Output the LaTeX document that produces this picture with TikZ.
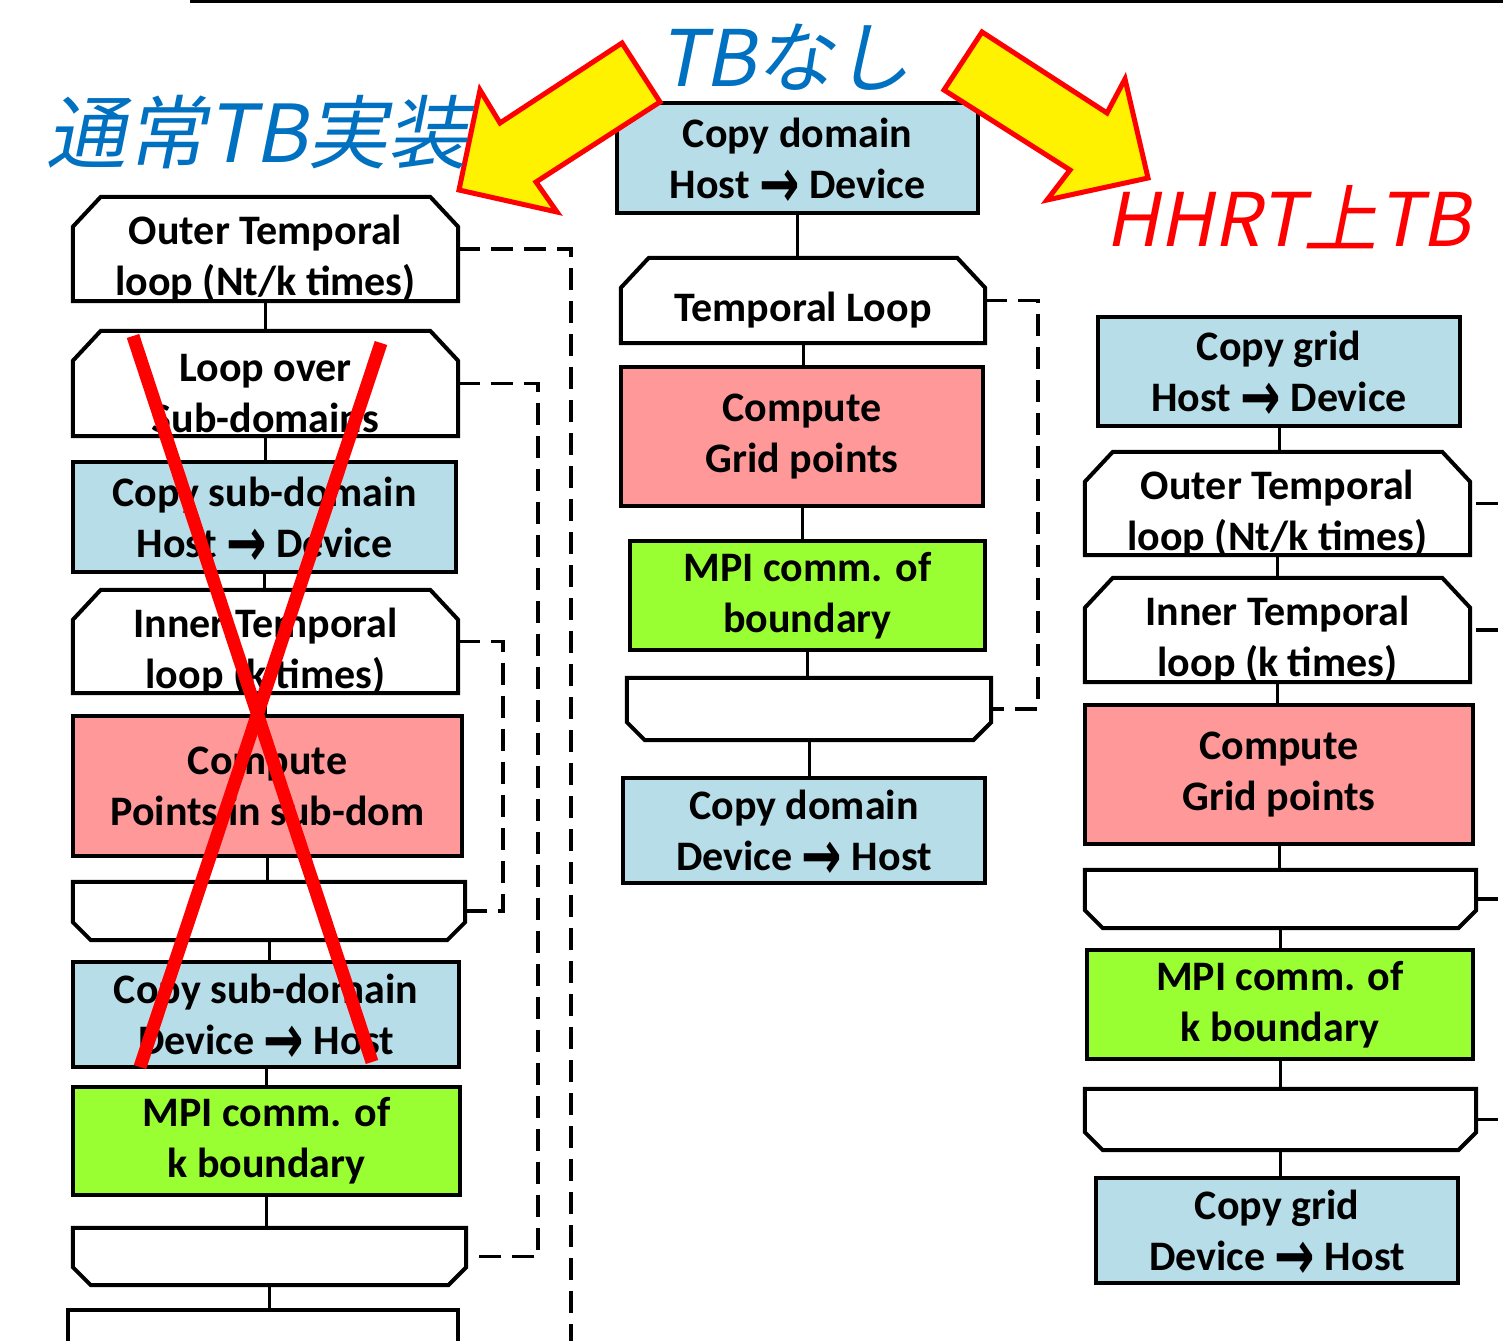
\documentclass[tikz,border=0pt]{standalone}
\usepackage{fontspec}
\usepackage{graphicx}
\setmainfont{Carlito}
\newfontfamily\jpfont[FakeSlant=0.2]{Noto Sans CJK JP}
\newfontfamily\arrfont{DejaVu Sans}
\usetikzlibrary{calc}
\definecolor{blu}{HTML}{B7DEE8}
\definecolor{pnk}{HTML}{FF9999}
\definecolor{grn}{HTML}{99FF33}
\definecolor{jblue}{HTML}{0070C0}
\newcommand{\harr}{\raisebox{-9pt}[20pt][0pt]{\scalebox{1.15}[1.65]{\arrfont\bfseries →}}}
\newcommand{\loopstart}[1]{\draw[outl] (#1.south west) -- ([yshift=-30pt]#1.north west) -- ([xshift=28pt]#1.north west) -- ([xshift=-28pt]#1.north east) -- ([yshift=-30pt]#1.north east) -- (#1.south east) -- cycle;}
\newcommand{\loopend}[1]{\draw[outl] (#1.north west) -- ([yshift=18pt]#1.south west) -- ([xshift=18pt]#1.south west) -- ([xshift=-18pt]#1.south east) -- ([yshift=18pt]#1.south east) -- (#1.north east) -- cycle;}
\tikzset{
  outl/.style={line width=4pt, line join=miter},
  rbox/.style={draw, line width=4pt, fill=#1, inner sep=0pt, align=center,
    font=\fontsize{42}{51}\selectfont\bfseries},
  lbox/.style={inner sep=0pt},
  txt/.style={align=center, inner sep=0pt, font=\fontsize{42}{51}\selectfont\bfseries},
  conn/.style={line width=3pt},
  dsh/.style={line width=3.5pt, dash pattern=on 22pt off 11pt},
  xline/.style={line width=13pt, red},
  bigarrow/.style={fill=yellow, draw=red, line width=5pt, line join=miter},
}
\begin{document}
\begin{tikzpicture}[x=1pt, y=-1pt]
\useasboundingbox (0,0) rectangle (1503,1340);
\clip (0,0) rectangle (1503,1340);
\fill[white] (0,0) rectangle (1503,1340);
% top rule
\draw[line width=3pt] (190,2) -- (1503,2);

% ---------- left column ----------
\node[lbox, minimum width=385pt, minimum height=104pt, label={[txt, yshift=-10pt]center:{Outer Temporal\\loop (Nt/k times)}}] (L1) at (265.5,249) {};
\node[lbox, minimum width=385pt, minimum height=105pt, label={[txt, yshift=-10pt]center:{Loop over\\Sub-domains}}] (L2) at (265.5,383.5) {};
\node[rbox=blu, minimum width=383pt, minimum height=110pt] (L3) at (264.5,517) {Copy sub-domain\\Host \harr{} Device};
\node[lbox, minimum width=385pt, minimum height=103pt, label={[txt, yshift=-10pt]center:{Inner Temporal\\loop (k times)}}] (L4) at (265.5,641.5) {};
\node[rbox=pnk, minimum width=389pt, minimum height=140pt] (L5) at (267.5,786) {Compute\\Points in sub-dom};
\node[lbox, minimum width=392pt, minimum height=58pt] (L6) at (269,911) {};
\node[rbox=blu, minimum width=386pt, minimum height=105pt] (L7) at (266,1014.5) {Copy sub-domain\\Device \harr{} Host};
\node[rbox=grn, minimum width=387pt, minimum height=108pt] (L8) at (266.5,1141) {MPI comm. of\\k boundary};
\node[lbox, minimum width=393pt, minimum height=57pt] (L9) at (269.5,1256.5) {};
\node[rbox=white, minimum width=390pt, minimum height=90pt] (L10) at (263,1355) {};
\loopstart{L1}\loopstart{L2}\loopstart{L4}
\loopend{L6}\loopend{L9}
\draw[conn] (L1.south) -- (L1.south |- L2.north);
\draw[conn] (L2.south) -- (L2.south |- L3.north);
\draw[conn] (L3.south) -- (L3.south |- L4.north);
\draw[conn] (L4.south) -- (L4.south |- L5.north);
\draw[conn] (L5.south) -- (L5.south |- L6.north);
\draw[conn] (L6.south) -- (L6.south |- L7.north);
\draw[conn] (L7.south) -- (L7.south |- L8.north);
\draw[conn] (L8.south) -- (L8.south |- L9.north);
\draw[conn] (L9.south) -- (L9.south |- L10.north);
\coordinate (Lend) at (571,1345);
\coordinate (xa) at (538,0);
\coordinate (xb) at (503,0);
\draw[dsh] (L1.east) -| (Lend);
\draw[dsh] (L2.east) -| (xa |- L9.east) -- (L9.east);
\draw[dsh] (L4.east) -| (xb |- L6.east) -- (L6.east);

% ---------- middle column ----------
\node[rbox=blu, minimum width=361pt, minimum height=110pt] (M1) at (797.5,158) {Copy domain\\Host \harr{} Device};
\node[lbox, minimum width=364pt, minimum height=85pt, label={[txt, yshift=-10pt]center:{Temporal Loop}}] (M2) at (803,300.5) {};
\node[rbox=pnk, minimum width=362pt, minimum height=139pt] (M3) at (802,436.5) {Compute\\Grid points};
\node[rbox=grn, minimum width=355pt, minimum height=109pt] (M4) at (807.5,595.5) {MPI comm. of\\boundary};
\node[lbox, minimum width=364pt, minimum height=62pt] (M5) at (809,709) {};
\node[rbox=blu, minimum width=362pt, minimum height=105pt] (M6) at (804,830.5) {Copy domain\\Device \harr{} Host};
\loopstart{M2}\loopend{M5}
\draw[conn] (M1.south) -- (M1.south |- M2.north);
\draw[conn] (M2.south) -- (M2.south |- M3.north);
\draw[conn] (M3.south) -- (M3.south |- M4.north);
\draw[conn] (M4.south) -- (M4.south |- M5.north);
\draw[conn] (M5.south) -- (M5.south |- M6.north);
\coordinate (xm) at (1038,0);
\draw[dsh] (M2.east) -| (xm |- M5.east) -- (M5.east);

% ---------- right column ----------
\node[rbox=blu, minimum width=362pt, minimum height=109pt] (R1) at (1279,371.5) {Copy grid\\Host \harr{} Device};
\node[lbox, minimum width=385pt, minimum height=103pt, label={[txt, yshift=-10pt]center:{Outer Temporal\\loop (Nt/k times)}}] (R2) at (1277.5,503.5) {};
\node[lbox, minimum width=385pt, minimum height=104pt, label={[txt, yshift=-10pt]center:{Inner Temporal\\loop (k times)}}] (R3) at (1277.5,630) {};
\node[rbox=pnk, minimum width=388pt, minimum height=139pt] (R4) at (1279,774.5) {Compute\\Grid points};
\node[lbox, minimum width=391pt, minimum height=58pt] (R5) at (1280.5,899) {};
\node[rbox=grn, minimum width=386pt, minimum height=109pt] (R6) at (1280,1004.5) {MPI comm. of\\k boundary};
\node[lbox, minimum width=391pt, minimum height=61pt] (R7) at (1280.5,1119.5) {};
\node[rbox=blu, minimum width=362pt, minimum height=105pt] (R8) at (1277,1230.5) {Copy grid\\Device \harr{} Host};
\loopstart{R2}\loopstart{R3}\loopend{R5}\loopend{R7}
\draw[conn] (R1.south) -- (R1.south |- R2.north);
\draw[conn] (R2.south) -- (R2.south |- R3.north);
\draw[conn] (R3.south) -- (R3.south |- R4.north);
\draw[conn] (R4.south) -- (R4.south |- R5.north);
\draw[conn] (R5.south) -- (R5.south |- R6.north);
\draw[conn] (R6.south) -- (R6.south |- R7.north);
\draw[conn] (R7.south) -- (R7.south |- R8.north);
\coordinate (re) at (1503,0);
\draw[dsh] ([xshift=6pt]R2.east) -- (R2.east -| re);
\draw[dsh] ([xshift=6pt]R3.east) -- (R3.east -| re);
\draw[dsh] (R5.east) -- (R5.east -| re);
\draw[dsh] (R7.east) -- (R7.east -| re);

% ---------- red cross ----------
\draw[xline] (133,336) -- (372,1062);
\draw[xline] (381,343) -- (140,1067);

% ---------- big arrows ----------
\draw[bigarrow] (622,43) -- (660,102) -- (536,182) -- (557,212) -- (459,190) -- (480,90) -- (500,123) -- cycle;
\draw[bigarrow] (982,32) -- (1107,113) -- (1125,79) -- (1148,178) -- (1047,200) -- (1070,170) -- (944,90) -- cycle;

% ---------- titles ----------
\node[text=jblue, font=\jpfont\fontsize{80}{90}\selectfont, inner sep=0pt] (t1) at (257,132) {通常TB実装};
\node[text=jblue, font=\jpfont\fontsize{78}{88}\selectfont, inner sep=0pt] (t2) at (785,57) {TBなし};
\node[text=red, font=\jpfont\fontsize{74}{84}\selectfont, inner sep=0pt] (t3) at (1288,217) {HHRT上TB};
\end{tikzpicture}
\end{document}
